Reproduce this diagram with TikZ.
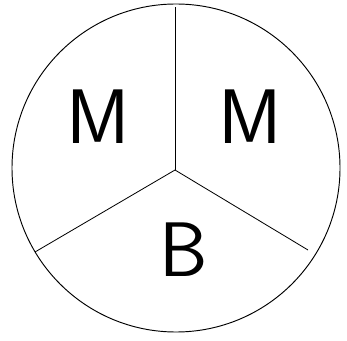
\documentclass[tikz,border=0pt]{standalone}
\begin{document}
\begin{tikzpicture}[x=0.03cm,y=0.03cm,letter/.style={font=\sffamily\fontsize{66}{70}\selectfont}]
\useasboundingbox (0,0) rectangle (347,340);
\draw[line width=0.8pt] (176,172) circle (164);
\coordinate (hub) at (175,170);
\foreach \n/\p in {top/{175,333},left/{35,88},right/{308,90}}{
  \coordinate (\n) at (\p);
  \draw[line width=0.7pt] (hub) -- (\n);}
\node[letter] (m1) at (98,223) {M};
\node[letter] (m2) at (250,223) {M};
\node[letter] (b) at (184,90) {B};
\end{tikzpicture}
\end{document}
